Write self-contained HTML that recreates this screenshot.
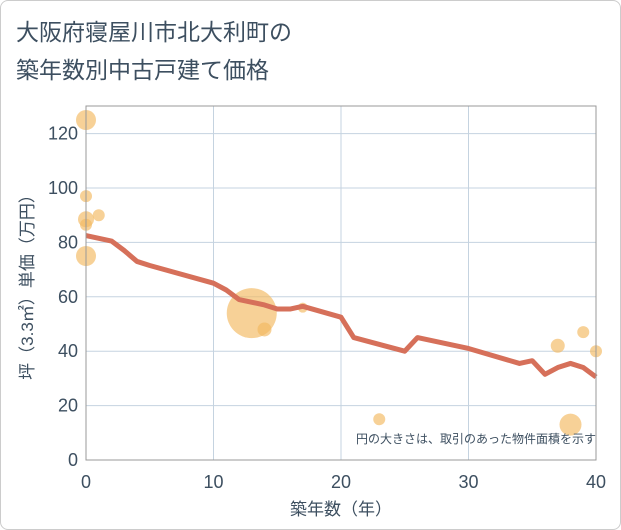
<!DOCTYPE html>
<html><head><meta charset="utf-8"><style>
body{margin:0;background:#fff}
.c{width:619px;height:528px;border:1px solid #ccc;border-radius:8px;position:relative;font-family:"Liberation Sans","Noto Sans CJK JP",sans-serif;color:#3d4f60}
text{font-family:"Liberation Sans","Noto Sans CJK JP",sans-serif}
</style></head><body>
<div class="c">
<svg width="621" height="530" style="position:absolute;left:-1px;top:-1px">
<text x="16" y="40" font-size="23" fill="#3d4f60">大阪府寝屋川市北大利町の</text>
<text x="16" y="78" font-size="23" fill="#3d4f60">築年数別中古戸建て価格</text>
<g id="grid"></g>
<g id="bubbles"></g>
<g id="line"></g>
<rect x="86" y="106" width="510" height="354" fill="none" stroke="#999" stroke-width="1"/>
<g id="ticks"></g>
<text x="596" y="443" font-size="12" fill="#3d4f60" text-anchor="end">円の大きさは、取引のあった物件面積を示す</text>
<text x="341" y="515" font-size="17" fill="#3d4f60" text-anchor="middle">築年数（年）</text>
<text transform="translate(33,283) rotate(-90)" font-size="17" fill="#3d4f60" text-anchor="middle">坪（3.3㎡）単価（万円）</text>
</svg>
</div>
<script>
const xTicks=[0,10,20,30,40];
const yTicks=[0,20,40,60,80,100,120];
const lineYears=[0,2,3,4,5,10,11,12,14,15,16,17,20,21,25,26,30,34,35,36,37,38,39,40];
const lineValues=[82.5,80.5,77,73,71.5,65,62.5,59,57,55.5,55.5,56.5,52.5,45,40,45,41,35.5,36.5,31.5,34,35.5,34,30.5];
const bubbleYears=[0,0,0,0,1,0,13,14,17,23,37,38,39,40];
const bubbleValues=[125,97,88.5,86.5,90,75,54,48,56,15,42,13,47,40];
const bubbleSizes=[10,6,8,6,6,10,25,7,5,6,7,11,6,6];
const NS='http://www.w3.org/2000/svg';
const X=v=>86+v*12.75, Y=v=>460-v*2.72;
const g=document.getElementById('grid'),t=document.getElementById('ticks');
function mk(tag,a,p){const e=document.createElementNS(NS,tag);for(const k in a)e.setAttribute(k,a[k]);p.appendChild(e);return e;}
xTicks.forEach(v=>{const l=mk('line',{x1:X(v),x2:X(v),y1:106,y2:460,stroke:'#c5d3e0'},g);


const s=mk('text',{x:X(v),y:488,'font-size':18,fill:'#3d4f60','text-anchor':'middle'},t);s.textContent=v;

});
yTicks.forEach(v=>{const l=mk('line',{x1:86,x2:596,y1:Y(v),y2:Y(v),stroke:'#c5d3e0'},g);


const s=mk('text',{x:78,y:Y(v)+6,'font-size':18,fill:'#3d4f60','text-anchor':'end'},t);s.textContent=v;

});
const b=document.getElementById('bubbles');
bubbleYears.forEach((v,i)=>{const c=mk('circle',{cx:X(v),cy:Y(bubbleValues[i]),r:bubbleSizes[i],fill:'#f3b95f','fill-opacity':0.65},b);

});
const p=mk('polyline',{points:lineYears.map((v,i)=>X(v)+','+Y(lineValues[i])).join(' '),fill:'none',stroke:'#d6705a','stroke-width':5,'stroke-linejoin':'round'},document.getElementById('line'));


</script>
</body></html>
